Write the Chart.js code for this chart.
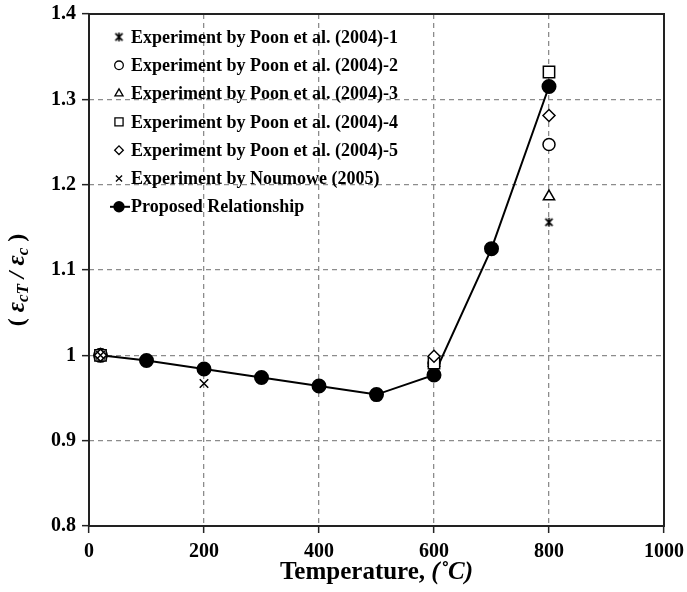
<!DOCTYPE html>
<html>
<head>
<meta charset="utf-8">
<script src="https://cdn.jsdelivr.net/npm/chart.js@4/dist/chart.umd.min.js"></script>
<style>
  html, body { margin: 0; padding: 0; background: #fff; }
  #wrap { width: 687px; height: 592px; }
</style>
</head>
<body>
<div id="wrap"><canvas id="strainChart"></canvas></div>
<script>
// Proposed relationship
const temps = [20, 100, 200, 300, 400, 500, 600, 700, 800];
const proposed = [1.0, 0.994, 0.984, 0.974, 0.964, 0.954, 0.977, 1.125, 1.315];

// Poon et al. (2004) experiments
const poonTemps = [20, 600, 800];
const poon1 = [1.0, 0.991, 1.156];
const poon2 = [1.0, 0.991, 1.247];
const poon3 = [1.0, 0.991, 1.186];
const poon4 = [1.0, 0.991, 1.332];
const poon5 = [1.0, 0.999, 1.281];

// Noumowe (2005)
const noumoweTemps = [20, 200];
const noumowe = [1.0, 0.967];

const xTicks = [0, 200, 400, 600, 800, 1000];
const yTicks = [0.8, 0.9, 1.0, 1.1, 1.2, 1.3, 1.4];

const serif = '"Liberation Serif", "Times New Roman", serif';

function pts(xs, ys) {
    return xs.map((x, i) => ({ x: x, y: ys[i] }));
}

// asterisk marker: x with a vertical bar
function starMarker(size) {
    const c = document.createElement('canvas');
    c.width = size; c.height = size;
    const g = c.getContext('2d');
    const m = size / 2, r = size / 2 - 1;
    g.strokeStyle = '#000';
    g.lineWidth = 1.6;
    g.beginPath();
    g.moveTo(m - r * 0.8, m - r * 0.8); g.lineTo(m + r * 0.8, m + r * 0.8);
    g.moveTo(m + r * 0.8, m - r * 0.8); g.lineTo(m - r * 0.8, m + r * 0.8);
    g.moveTo(m, m - r); g.lineTo(m, m + r);
    g.stroke();
    return c;
}

const starPlot = starMarker(11);
const starLegend = starMarker(11);

function expSet(label, data, style, radius, order, legendStyle) {
    return {
        label: label,
        data: data,
        order: order,
        showLine: false,
        pointStyle: style,
        legendStyle: legendStyle || style,
        pointRadius: radius,
        pointHoverRadius: radius,
        pointBorderColor: '#000',
        pointBackgroundColor: '#fff',
        pointBorderWidth: 1.5
    };
}

// titles, frame and legend
const decor = {
    id: 'decor',
    afterDraw(chart) {
        const ctx = chart.ctx;
        const a = chart.chartArea;
        ctx.save();
        // frame
        ctx.strokeStyle = '#222';
        ctx.lineWidth = 2;
        ctx.strokeRect(a.left, a.top, a.right - a.left, a.bottom - a.top);

        // x title
        const t1 = 'Temperature, ';
        const t2 = '(\u02DAC)';
        ctx.fillStyle = '#000';
        ctx.textBaseline = 'middle';
        ctx.font = 'bold 25px ' + serif;
        const w1 = ctx.measureText(t1).width;
        ctx.font = 'italic bold 25px ' + serif;
        const w2 = ctx.measureText(t2).width;
        let x0 = (a.left + a.right) / 2 - (w1 + w2) / 2;
        ctx.textAlign = 'left';
        ctx.font = 'bold 25px ' + serif;
        ctx.fillText(t1, x0, 573);
        ctx.font = 'italic bold 25px ' + serif;
        ctx.fillText(t2, x0 + w1, 573);

        // y title, rotated
        const parts = [
            ['( ', 'bold 24px ' + serif, 0],
            ['\u03B5', 'italic bold 25px ' + serif, 0],
            ['cT', 'italic bold 17px ' + serif, 6],
            [' / ', 'italic bold 24px ' + serif, 0],
            ['\u03B5', 'italic bold 25px ' + serif, 0],
            ['c', 'italic bold 17px ' + serif, 6],
            [' )', 'bold 24px ' + serif, 0]
        ];
        let total = 0;
        parts.forEach(p => { ctx.font = p[1]; total += ctx.measureText(p[0]).width; });
        ctx.translate(18, 280);
        ctx.rotate(-Math.PI / 2);
        let px = -total / 2;
        parts.forEach(p => {
            ctx.font = p[1];
            ctx.fillText(p[0], px, p[2]);
            px += ctx.measureText(p[0]).width;
        });
        ctx.restore();

        // legend inside plot
        ctx.save();
        const mx = 119, tx = 131, row0 = 37, rowH = 28.3;
        ctx.font = 'bold 18px ' + serif;
        ctx.textAlign = 'left';
        ctx.textBaseline = 'middle';
        chart.data.datasets.forEach((ds, i) => {
            const y = row0 + i * rowH;
            ctx.strokeStyle = '#000';
            ctx.fillStyle = ds.pointBackgroundColor;
            ctx.lineWidth = 1.3;
            if (ds.showLine) {
                ctx.lineWidth = 2;
                ctx.beginPath();
                ctx.moveTo(mx - 9, y); ctx.lineTo(mx + 11, y);
                ctx.stroke();
            }
            Chart.helpers.drawPoint(ctx, {
                pointStyle: ds.legendStyle,
                radius: ds.pointRadius * 0.72,
                rotation: 0,
                borderWidth: 1.3
            }, mx, y);
            ctx.fillStyle = '#000';
            ctx.fillText(ds.label, tx, y + 1);
        });
        ctx.restore();
    }
};

document.addEventListener('DOMContentLoaded', function () {
    const ctx = document.getElementById('strainChart').getContext('2d');
    new Chart(ctx, {
        type: 'scatter',
        data: {
            datasets: [
                expSet('Experiment by Poon et al. (2004)-1', pts(poonTemps, poon1), starPlot, 5.5, 0, starLegend),
                expSet('Experiment by Poon et al. (2004)-2', pts(poonTemps, poon2), 'circle', 6, -1),
                expSet('Experiment by Poon et al. (2004)-3', pts(poonTemps, poon3), 'triangle', 6.5, -2),
                expSet('Experiment by Poon et al. (2004)-4', pts(poonTemps, poon4), 'rect', 8, -3),
                expSet('Experiment by Poon et al. (2004)-5', pts(poonTemps, poon5), 'rectRot', 6, -4),
                expSet('Experiment by Noumowe (2005)', pts(noumoweTemps, noumowe), 'crossRot', 6, -5),
                {
                    label: 'Proposed Relationship',
                    data: pts(temps, proposed),
                    order: 1,
                    showLine: true,
                    legendStyle: 'circle',
                    borderColor: '#000',
                    borderWidth: 2,
                    pointStyle: 'circle',
                    pointRadius: 6.5,
                    pointHoverRadius: 6.5,
                    pointBackgroundColor: '#000',
                    pointBorderColor: '#000',
                    tension: 0
                }
            ]
        },
        options: {
            responsive: true,
            maintainAspectRatio: false,
            animation: false,
            layout: { padding: { left: 0, right: 23, top: 14, bottom: 0 } },
            plugins: {
                legend: { display: false },
                tooltip: { enabled: false }
            },
            scales: {
                x: {
                    type: 'linear',
                    min: 0,
                    max: 1000,
                    afterBuildTicks: s => { s.ticks = xTicks.map(v => ({ value: v })); },
                    afterFit: s => { s.height = 66; s.paddingLeft = 0; s.paddingRight = 0; },
                    grid: {
                        color: '#8c8c8c',
                        lineWidth: 1.3,
                        tickColor: '#222',
                        tickLength: 7,
                        tickWidth: 1.5
                    },
                    border: { display: false, dash: [5, 4] },
                    ticks: {
                        color: '#000',
                        padding: 7,
                        maxRotation: 0,
                        font: { family: serif, size: 20, weight: 'bold' },
                        callback: v => String(v)
                    }
                },
                y: {
                    type: 'linear',
                    min: 0.8,
                    max: 1.4,
                    afterBuildTicks: s => { s.ticks = yTicks.map(v => ({ value: v })); },
                    afterFit: s => { s.width = 89; s.paddingTop = 0; s.paddingBottom = 0; },
                    grid: {
                        color: '#8c8c8c',
                        lineWidth: 1.3,
                        tickColor: '#222',
                        tickLength: 7,
                        tickWidth: 1.5
                    },
                    border: { display: false, dash: [5, 4] },
                    ticks: {
                        color: '#000',
                        padding: 6,
                        font: { family: serif, size: 20, weight: 'bold' },
                        callback: v => String(Math.round(v * 10) / 10)
                    }
                }
            }
        },
        plugins: [decor]
    });
});
</script>
</body>
</html>
